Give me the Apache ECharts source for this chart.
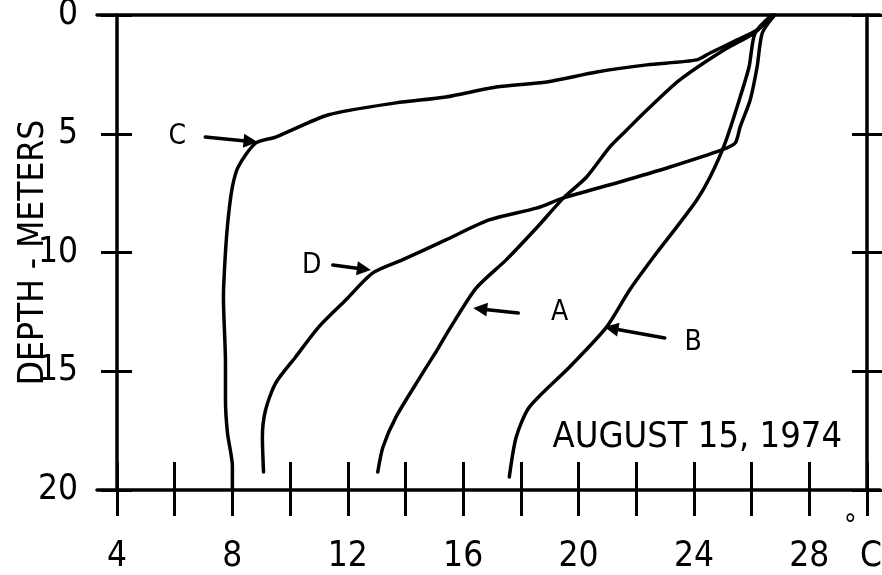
<!DOCTYPE html>
<html>
<head>
<meta charset="utf-8">
<script src="https://cdn.jsdelivr.net/npm/echarts@6/dist/echarts.min.js"></script>
<style>
  html, body { margin: 0; padding: 0; background: #fff; }
  #chart { width: 882px; height: 575px; }
</style>
</head>
<body>
<div id="chart"></div>
<script>
// Water temperature profiles: depth (m) and temperature (°C) for stations A–D
const depthA = [0, 0.76, 1.47, 2.74, 4.0, 4.84, 5.56, 6.82, 7.7, 8.97, 10.3, 11.5, 13.26, 14.1, 15.07, 16.93, 18.19, 19.24];
const tempA  = [26.7, 26.09, 25.04, 23.5, 22.37, 21.67, 21.08, 20.28, 19.48, 18.54, 17.5, 16.45, 15.51, 15.1, 14.6, 13.67, 13.22, 13.04];

const depthB = [0, 0.76, 2.19, 3.58, 5.39, 6.82, 7.79, 8.93, 10.19, 11.58, 13.14, 14.82, 16.5, 17.77, 19.45];
const tempB  = [26.7, 26.12, 25.91, 25.57, 25.08, 24.56, 24.1, 23.4, 22.6, 21.77, 20.97, 19.69, 18.3, 17.84, 17.6];

const depthC = [0, 0.63, 1.05, 1.6, 1.89, 2.1, 2.4, 2.82, 3.03, 3.45, 3.7, 4.2, 5.14, 5.4, 6.4, 7.24, 8.5, 10.0, 11.9, 14.65, 16.2, 17.6, 19.0, 20.0];
const tempC  = [26.8, 26.19, 25.5, 24.56, 24.1, 22.37, 20.63, 18.9, 17.15, 15.4, 13.67, 11.34, 9.5, 8.8, 8.2, 8.0, 7.86, 7.76, 7.69, 7.76, 7.76, 7.83, 8.0, 8.0];

const depthD = [0, 0.76, 2.19, 3.58, 4.72, 5.39, 5.68, 6.4, 7.03, 7.7, 8.13, 8.63, 9.47, 10.3, 10.86, 12.0, 13.14, 14.4, 15.5, 16.63, 17.77, 19.24];
const tempD  = [26.8, 26.37, 26.19, 25.95, 25.6, 25.43, 24.97, 23.17, 21.43, 19.48, 18.54, 16.9, 15.4, 13.91, 12.87, 11.93, 10.99, 10.19, 9.5, 9.15, 9.04, 9.08];

// Axis tick labels
const tempLabels  = [4, 8, 12, 16, 20, 24, 28];
const depthLabels = [0, 5, 10, 15, 20];

// Curve annotations: letter position, arrow tail and arrow head (temperature, depth)
const noteLetters   = ['C', 'D', 'A', 'B'];
const noteLabelAt   = [[6.09, 5.14], [10.75, 10.57], [19.34, 12.55], [23.97, 13.81]];
const noteArrowFrom = [[7.06, 5.14], [11.48, 10.53], [17.91, 12.55], [22.99, 13.6]];
const noteArrowTo   = [[8.87, 5.35], [12.8, 10.74], [16.35, 12.34], [20.9, 13.14]];

const dateText = 'AUGUST 15, 1974';

const FONT = '"DejaVu Sans Condensed", "DejaVu Sans", sans-serif';
const INK = '#000';

function zip(ts, ds) { return ts.map((t, i) => [t, ds[i]]); }

const profiles = [
  { name: 'A', data: zip(tempA, depthA) },
  { name: 'B', data: zip(tempB, depthB) },
  { name: 'C', data: zip(tempC, depthC) },
  { name: 'D', data: zip(tempD, depthD) }
];

const noteData = noteLetters.map((n, i) => [
  noteLabelAt[i][0], noteLabelAt[i][1],
  noteArrowFrom[i][0], noteArrowFrom[i][1],
  noteArrowTo[i][0], noteArrowTo[i][1]
]);

const tickStyle = { color: INK, width: 3 };
const frameLine = { color: INK, width: 3.5 };

const chart = echarts.init(document.getElementById('chart'), null, { renderer: 'canvas' });

chart.setOption({
  animation: false,
  backgroundColor: '#fff',
  title: {
    text: dateText,
    right: 40,
    top: 420,
    padding: 0,
    textStyle: { fontFamily: FONT, fontSize: 36, fontWeight: 'normal', color: INK }
  },
  grid: [
    { left: 117, right: 15, top: 15, bottom: 85, outerBoundsMode: 'none', containLabel: false },
    { left: 97, right: 2, top: 15, bottom: 85, outerBoundsMode: 'none', containLabel: false }
  ],
  xAxis: [
    {
      gridIndex: 0, type: 'value', min: 4, max: 30, interval: 2, position: 'bottom',
      axisLine: { show: false, onZero: false },
      axisTick: { length: 26, lineStyle: tickStyle },
      axisLabel: { customValues: tempLabels, fontFamily: FONT, fontSize: 35, color: INK, margin: 49 },
      splitLine: { show: false },
      name: '{d|°}\n{c|C}',
      nameLocation: 'end',
      nameGap: -23,
      nameMoveOverlap: false,
      nameTextStyle: {
        align: 'left', verticalAlign: 'top', padding: [24, 0, 0, 0],
        rich: {
          d: { fontFamily: FONT, fontSize: 28, lineHeight: 26, color: INK },
          c: { fontFamily: FONT, fontSize: 35, lineHeight: 34, color: INK, padding: [0, 0, 0, 16] }
        }
      }
    },
    {
      gridIndex: 0, type: 'value', min: 4, max: 30, interval: 2, position: 'bottom',
      axisLine: { show: false, onZero: false },
      axisTick: { inside: true, length: 28, lineStyle: tickStyle },
      axisLabel: { show: false },
      splitLine: { show: false }
    },
    {
      gridIndex: 1, type: 'value', min: 0, max: 1, position: 'top',
      axisLine: { show: true, onZero: false, lineStyle: frameLine },
      axisTick: { show: false }, axisLabel: { show: false }, splitLine: { show: false }
    },
    {
      gridIndex: 1, type: 'value', min: 0, max: 1, position: 'bottom',
      axisLine: { show: true, onZero: false, lineStyle: frameLine },
      axisTick: { show: false }, axisLabel: { show: false }, splitLine: { show: false }
    }
  ],
  yAxis: [
    {
      gridIndex: 0, type: 'value', min: 0, max: 20, interval: 5, inverse: true, position: 'left',
      axisLine: { show: true, onZero: false, lineStyle: frameLine },
      axisTick: { length: 16, lineStyle: tickStyle },
      axisLabel: { customValues: depthLabels, fontFamily: FONT, fontSize: 35, color: INK, margin: 39 },
      splitLine: { show: false },
      name: 'DEPTH - METERS',
      nameLocation: 'middle',
      nameGap: 66,
      nameMoveOverlap: false,
      nameTextStyle: { fontFamily: FONT, fontSize: 35, color: INK }
    },
    {
      gridIndex: 0, type: 'value', min: 0, max: 20, interval: 5, inverse: true, position: 'left',
      axisLine: { show: false, onZero: false },
      axisTick: { inside: true, length: 15, lineStyle: tickStyle },
      axisLabel: { show: false }, splitLine: { show: false }
    },
    {
      gridIndex: 0, type: 'value', min: 0, max: 20, interval: 5, inverse: true, position: 'right',
      axisLine: { show: true, onZero: false, lineStyle: frameLine },
      axisTick: { length: 20, lineStyle: tickStyle },
      axisLabel: { show: false }, splitLine: { show: false }
    },
    {
      gridIndex: 0, type: 'value', min: 0, max: 20, interval: 5, inverse: true, position: 'right',
      axisLine: { show: false, onZero: false },
      axisTick: { inside: true, length: 15, lineStyle: tickStyle },
      axisLabel: { show: false }, splitLine: { show: false }
    },
    {
      gridIndex: 1, type: 'value', min: 0, max: 20, inverse: true, show: false
    }
  ],
  series: profiles.map(p => ({
    name: p.name,
    type: 'line',
    xAxisIndex: 0,
    yAxisIndex: 0,
    data: p.data,
    smooth: 0.25,
    showSymbol: false,
    lineStyle: { color: INK, width: 3.5, cap: 'round', join: 'round' },
    z: 3
  })).concat([{
    type: 'custom',
    name: 'notes',
    xAxisIndex: 0,
    yAxisIndex: 0,
    data: noteData,
    encode: { x: [0, 2, 4], y: [1, 3, 5] },
    clip: false,
    z: 4,
    renderItem: function (params, api) {
      const i = params.dataIndex;
      const lab = api.coord([api.value(0), api.value(1)]);
      const p0 = api.coord([api.value(2), api.value(3)]);
      const p1 = api.coord([api.value(4), api.value(5)]);
      const ang = Math.atan2(p1[1] - p0[1], p1[0] - p0[0]);
      const L = 14, W = 7;
      const base = [p1[0] - L * Math.cos(ang), p1[1] - L * Math.sin(ang)];
      const nx = -Math.sin(ang), ny = Math.cos(ang);
      return {
        type: 'group',
        children: [
          {
            type: 'text',
            style: {
              text: noteLetters[i], x: lab[0], y: lab[1],
              align: 'center', verticalAlign: 'middle',
              fontFamily: FONT, fontSize: 28, fill: INK
            }
          },
          {
            type: 'line',
            shape: { x1: p0[0], y1: p0[1], x2: base[0] + Math.cos(ang) * 2, y2: base[1] + Math.sin(ang) * 2 },
            style: { stroke: INK, lineWidth: 3.5, lineCap: 'round' }
          },
          {
            type: 'polygon',
            shape: { points: [p1, [base[0] + nx * W, base[1] + ny * W], [base[0] - nx * W, base[1] - ny * W]] },
            style: { fill: INK }
          }
        ]
      };
    }
  }])
});
</script>
</body>
</html>
